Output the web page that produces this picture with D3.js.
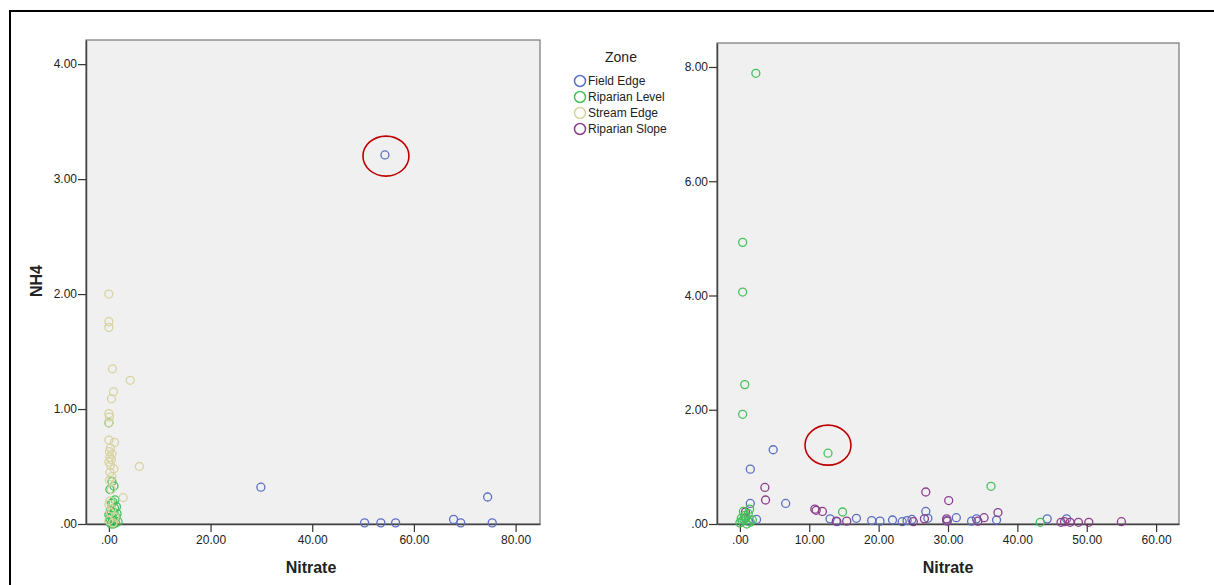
<!DOCTYPE html>
<html>
<head>
<meta charset="utf-8">
<script src="https://cdn.jsdelivr.net/npm/d3@7"></script>
<style>
  body { margin: 0; background: #fff; }
  svg { display: block; font-family: "Liberation Sans", Arial, sans-serif; }
</style>
</head>
<body>
<svg id="chart" width="1214" height="585"></svg>
<script>
// zones + colours
const zones = ["Field Edge", "Riparian Level", "Stream Edge", "Riparian Slope"];
const zoneColors = ["#5b6fc4", "#45c15a", "#d8d3a0", "#8c3f8d"];

// left panel [nitrate, nh4]
const leftFieldEdge = [[54.3,3.21],[29.9,0.32],[74.5,0.235],[50.3,0.01],[53.5,0.01],[56.4,0.01],[67.8,0.04],[69.2,0.01],[75.4,0.01]];
const leftRiparianLevel = [[0.0,0.88],[0.6,0.37],[1.0,0.33],[0.2,0.30],[1.2,0.21],[0.5,0.18],[1.5,0.15],[0.3,0.12],[1.0,0.10],[0.0,0.08],[1.4,0.06],[0.7,0.04],[0.1,0.02],[1.3,0.01],[0.4,0.0],[1.8,0.02],[0.9,0.0],[0.6,0.07],[1.1,0.14],[0.2,0.05],[1.6,0.09],[0.8,0.19]];
const leftStreamEdge = [[0.0,2.0],[0.0,1.76],[0.0,1.71],[0.7,1.35],[4.2,1.25],[0.9,1.15],[0.5,1.09],[0.0,0.96],[0.1,0.93],[0.0,0.88],[0.0,0.73],[1.1,0.71],[0.3,0.66],[0.1,0.63],[0.6,0.61],[0.2,0.58],[0.5,0.56],[0.0,0.54],[0.3,0.51],[6.0,0.50],[1.0,0.48],[0.2,0.45],[0.6,0.41],[0.1,0.38],[0.5,0.30],[2.8,0.23],[0.2,0.20],[0.0,0.17],[0.6,0.13],[0.3,0.10],[1.2,0.06],[0.0,0.03],[0.8,0.01]];

// right panel
const rightFieldEdge = [[1.5,0.96],[4.8,1.30],[1.5,0.36],[6.6,0.36],[2.4,0.08],[0.8,0.1],[1.2,0.05],[13.0,0.09],[14.0,0.04],[16.8,0.1],[19.0,0.06],[20.2,0.05],[22.0,0.07],[23.4,0.04],[24.1,0.06],[24.8,0.08],[26.8,0.22],[27.1,0.1],[29.8,0.06],[31.2,0.11],[33.4,0.05],[34.1,0.09],[37.0,0.07],[44.3,0.09],[47.1,0.09]];
const rightRiparianLevel = [[2.3,7.89],[0.4,4.93],[0.4,4.06],[0.7,2.44],[0.4,1.92],[12.7,1.24],[14.8,0.21],[36.2,0.66],[43.3,0.03],[0.0,0.02],[0.3,0.05],[0.6,0.08],[0.9,0.12],[1.2,0.18],[0.5,0.22],[1.5,0.03],[1.0,0.0],[0.2,0.1],[1.8,0.07],[0.7,0.15],[1.4,0.26]];
const rightRiparianSlope = [[3.6,0.64],[3.7,0.42],[0.8,0.21],[10.8,0.26],[11.0,0.24],[11.9,0.22],[13.9,0.05],[15.4,0.05],[25.0,0.04],[26.8,0.56],[26.6,0.09],[30.1,0.41],[29.8,0.09],[29.9,0.05],[34.3,0.05],[35.2,0.11],[37.2,0.2],[46.3,0.03],[46.8,0.04],[47.6,0.03],[48.8,0.03],[50.3,0.03],[55.0,0.04]];

const leftXTicks = [0, 20, 40, 60, 80];
const leftYTicks = [0, 1, 2, 3, 4];
const rightXTicks = [0, 10, 20, 30, 40, 50, 60];
const rightYTicks = [0, 2, 4, 6, 8];

// highlighted points (red rings)
const leftHighlight = [54.5, 3.2];
const rightHighlight = [12.7, 1.38];

const svg = d3.select("#chart");

// outer frame
svg.append("rect")
    .attr("x", 10).attr("y", 11)
    .attr("width", 1220).attr("height", 600)
    .attr("fill", "none")
    .attr("stroke", "#000")
    .attr("stroke-width", 2);

const fmt = v => v === 0 ? ".00" : d3.format(".2f")(v);

function panel(opt) {
    const x = d3.scaleLinear().domain(opt.xDomain).range([opt.left, opt.right]);
    const y = d3.scaleLinear().domain(opt.yDomain).range([opt.bottom, opt.top]);

    svg.append("rect")
        .attr("x", opt.left).attr("y", opt.top)
        .attr("width", opt.right - opt.left)
        .attr("height", opt.bottom - opt.top)
        .attr("fill", "#f0f0f0")
        .attr("stroke", "#777")
        .attr("stroke-width", 1.2);

    const xAxis = svg.append("g")
        .attr("transform", `translate(0,${opt.bottom})`)
        .call(d3.axisBottom(x).tickValues(opt.xTicks).tickFormat(fmt).tickSize(8).tickSizeOuter(0));
    const yAxis = svg.append("g")
        .attr("transform", `translate(${opt.left},0)`)
        .call(d3.axisLeft(y).tickValues(opt.yTicks).tickFormat(fmt).tickSize(8).tickSizeOuter(0));
    [xAxis, yAxis].forEach(a => {
        a.select(".domain").attr("stroke", "#444").attr("stroke-width", 1.5);
        a.selectAll(".tick line").attr("stroke", "#333").attr("stroke-width", 1.2);
        a.selectAll(".tick text").attr("font-size", 12).attr("fill", "#222")
            .attr("font-family", "'Liberation Sans', Arial, sans-serif");
    });
    yAxis.selectAll(".tick text").attr("x", -9);

    opt.series.forEach(s => {
        svg.append("g").selectAll("circle")
            .data(s.data)
            .enter().append("circle")
            .attr("cx", d => x(d[0]))
            .attr("cy", d => y(d[1]))
            .attr("r", 4)
            .attr("fill", "none")
            .attr("stroke", zoneColors[s.zone])
            .attr("stroke-width", 1.3);
    });

    svg.append("ellipse")
        .attr("cx", x(opt.highlight[0]))
        .attr("cy", y(opt.highlight[1]))
        .attr("rx", 23).attr("ry", 20)
        .attr("fill", "none")
        .attr("stroke", "#c00000")
        .attr("stroke-width", 1.6);

    svg.append("text")
        .attr("x", (opt.left + opt.right) / 2 + opt.titleShift)
        .attr("y", opt.bottom + 49)
        .attr("text-anchor", "middle")
        .attr("font-size", 16).attr("font-weight", "bold")
        .attr("fill", "#222")
        .text("Nitrate");
}

panel({
    left: 86, right: 540, top: 40, bottom: 524,
    xDomain: [-4.5, 84.8], yDomain: [0, 4.21],
    xTicks: leftXTicks, yTicks: leftYTicks,
    highlight: leftHighlight, titleShift: -2,
    series: [
        {zone: 1, data: leftRiparianLevel},
        {zone: 2, data: leftStreamEdge},
        {zone: 0, data: leftFieldEdge}
    ]
});

panel({
    left: 717, right: 1179, top: 43, bottom: 524,
    xDomain: [-3.3, 63.3], yDomain: [0, 8.42],
    xTicks: rightXTicks, yTicks: rightYTicks,
    highlight: rightHighlight, titleShift: 0,
    series: [
        {zone: 0, data: rightFieldEdge},
        {zone: 3, data: rightRiparianSlope},
        {zone: 1, data: rightRiparianLevel}
    ]
});

// y title
svg.append("text")
    .attr("transform", "translate(42,281) rotate(-90)")
    .attr("text-anchor", "middle")
    .attr("font-size", 16).attr("font-weight", "bold")
    .attr("fill", "#222")
    .text("NH4");

// legend
const legend = svg.append("g");
legend.append("text")
    .attr("x", 621).attr("y", 62)
    .attr("text-anchor", "middle")
    .attr("font-size", 14).attr("fill", "#222")
    .text("Zone");
const item = legend.selectAll("g.item")
    .data(zones)
    .enter().append("g")
    .attr("class", "item")
    .attr("transform", (d, i) => `translate(580,${81 + i * 16})`);
item.append("circle")
    .attr("r", 5.5)
    .attr("fill", "none")
    .attr("stroke", (d, i) => zoneColors[i])
    .attr("stroke-width", 1.5);
item.append("text")
    .attr("x", 8).attr("dy", "0.35em")
    .attr("font-size", 12).attr("fill", "#222")
    .text(d => d);
</script>
</body>
</html>
